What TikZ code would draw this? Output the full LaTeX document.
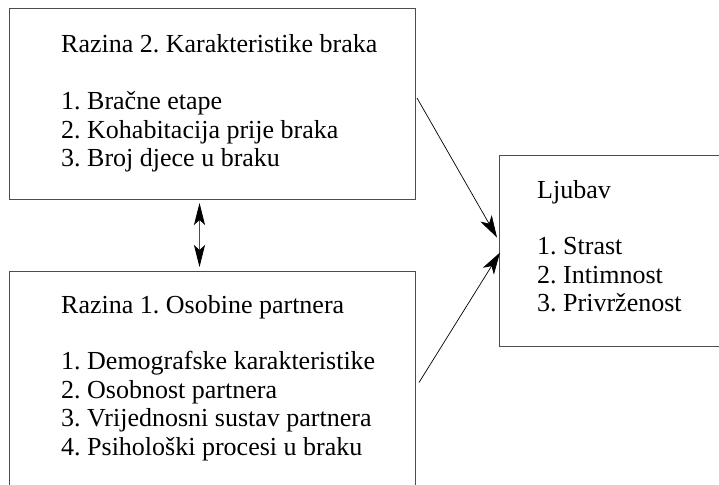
\documentclass[tikz,border=0pt]{standalone}
\usepackage{fontspec}
\setmainfont{Liberation Serif}
\frenchspacing
\usetikzlibrary{arrows.meta}
\begin{document}
\begin{tikzpicture}[x=1pt,y=-1pt,
  boxstyle/.style={draw=black!70,line width=1pt,rectangle,inner sep=0pt},
  txtstyle/.style={anchor=base west,inner sep=0pt,font=\fontsize{26}{28.4}\selectfont},
  arr/.style={draw=black,line width=0.7pt,-{Stealth[length=22pt,width=13pt,inset=6pt]}},
  darr/.style={draw=black!70,line width=0.8pt,{Stealth[length=22pt,width=11pt,inset=5pt,fill=black,color=black]}-{Stealth[length=22pt,width=11pt,inset=5pt,fill=black,color=black]}}]
\useasboundingbox (0,0) rectangle (719,484);
\clip (0,0) rectangle (719,484);
\node[boxstyle,minimum width=406pt,minimum height=191pt,anchor=north west] (topbox) at (9,8) {};
\node[boxstyle,minimum width=406pt,minimum height=222pt,anchor=north west] (botbox) at (9,271) {};
\node[boxstyle,minimum width=260pt,minimum height=191pt,anchor=north west] (rbox) at (499,155) {};
\node[txtstyle] (toptxt) at (61,53) {\begin{tabular}[t]{@{}l@{}}Razina 2. Karakteristike braka\\ \\1. Bračne etape\\2. Kohabitacija prije braka\\3. Broj djece u braku\end{tabular}};
\node[txtstyle] (bottxt) at (61,313) {\begin{tabular}[t]{@{}l@{}}Razina 1. Osobine partnera\\ \\1. Demografske karakteristike\\2. Osobnost partnera\\3. Vrijednosni sustav partnera\\4. Psihološki procesi u braku\end{tabular}};
\node[txtstyle] (rtxt) at (537,198) {\begin{tabular}[t]{@{}l@{}}Ljubav\\ \\1. Strast\\2. Intimnost\\3. Privrženost\end{tabular}};
\draw[arr] ([xshift=1pt,yshift=6pt]topbox.east) -- ([xshift=-2pt,yshift=13.5pt]rbox.west);
\draw[arr] ([xshift=3pt]botbox.east) -- ([xshift=1pt,yshift=-1.5pt]rbox.west);
\draw[darr] ([xshift=-13pt,yshift=-3pt]topbox.south) -- ([xshift=-13pt,yshift=4pt]botbox.north);
\end{tikzpicture}
\end{document}
